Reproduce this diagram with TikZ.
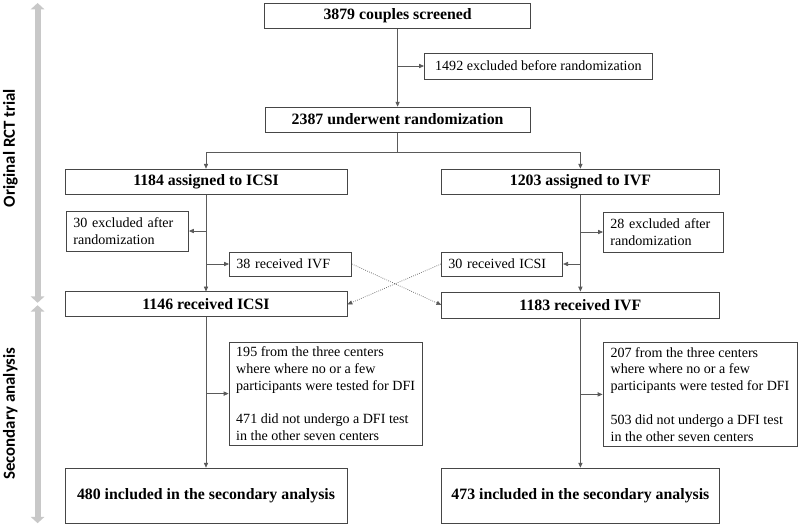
\documentclass[tikz,border=0pt]{standalone}
\usepackage{fontspec}
\setmainfont{Liberation Serif}
\newfontfamily\fasefont{Carlito}
\usepackage{tikz}
\usetikzlibrary{arrows.meta, positioning, calc}
\definecolor{lineagris}{RGB}{90,90,90}
\definecolor{bordegris}{RGB}{70,70,70}
\definecolor{fasegris}{RGB}{200,200,200}

\begin{document}
\begin{tikzpicture}[
	caja/.style={draw=bordegris, line width=0.6pt, inner sep=0pt, font=\fontsize{11.25}{13.5}\selectfont\bfseries},
	nota/.style={draw=bordegris, line width=0.6pt, inner xsep=5pt, inner ysep=2pt, align=left, anchor=west},
	bloque/.style={draw=bordegris, line width=0.6pt, inner sep=0pt, align=left},
	flecha/.style={lineagris, line width=0.5pt, -{Triangle[length=3.5pt,width=3pt]}},
	cruce/.style={lineagris, line width=0.5pt, densely dotted, -{Triangle[length=3.5pt,width=3pt]}},
	fase/.style={fasegris, line width=4.3pt, {Triangle[length=4.5pt,width=9.5pt]}-{Triangle[length=4.5pt,width=9.5pt]}},
	]
	\useasboundingbox (0,0) rectangle (20,-13.15);
	% ensayo original
	\node[caja, minimum width=6.65cm, minimum height=0.625cm] (scr) at (9.94,-0.39) {3879 couples screened};
	\node[nota, minimum width=5.7cm, minimum height=0.65cm] (excl) at (10.6,-1.65) {1492 excluded before randomization};
	\node[caja, minimum width=6.63cm, minimum height=0.625cm] (rand) at (9.94,-2.99) {2387 underwent randomization};
	\node[caja, minimum width=7.05cm, minimum height=0.625cm] (asICSI) at (5.15,-4.54) {1184 assigned to ICSI};
	\node[caja, minimum width=6.93cm, minimum height=0.625cm] (asIVF) at (14.51,-4.54) {1203 assigned to IVF};
	\node[nota, text width=2.7cm, minimum height=1cm] (exICSI) at (1.65,-5.775) {30 excluded after randomization};
	\node[nota, text width=2.7cm, minimum height=0.6cm] (recIVF) at (5.725,-6.6) {38 received IVF};
	\node[nota, text width=2.68cm, minimum height=0.6cm] (recICSI) at (11.025,-6.6) {30 received ICSI};
	\node[nota, text width=2.65cm, minimum height=1cm] (exIVF) at (15.075,-5.8) {28 excluded after randomization};
	\node[caja, minimum width=7.05cm, minimum height=0.625cm] (gICSI) at (5.15,-7.61) {1146 received ICSI};
	\node[caja, minimum width=6.93cm, minimum height=0.65cm] (gIVF) at (14.51,-7.625) {1183 received IVF};
	% analisis secundario
	\node[bloque, minimum width=4.83cm, minimum height=2.58cm] (lossICSI) at (8.14,-9.84) {195 from the three centers\\where where no or a few\\participants were tested for DFI\\[\baselineskip]471 did not undergo a DFI test\\in the other seven centers};
	\node[bloque, minimum width=4.85cm, minimum height=2.58cm] (lossIVF) at (17.5,-9.86) {207 from the three centers\\where where no or a few\\participants were tested for DFI\\[\baselineskip]503 did not undergo a DFI test\\in the other seven centers};
	\node[caja, minimum width=7.05cm, minimum height=1.375cm] (finICSI) at (5.15,-12.39) {480 included in the secondary analysis};
	\node[caja, minimum width=6.93cm, minimum height=1.375cm] (finIVF) at (14.51,-12.39) {473 included in the secondary analysis};
	% conexiones
	\draw[flecha] (scr) -- (rand);
	\coordinate (b0) at (scr.south |- excl.west);
	\draw[flecha] (b0) -- (excl);
	\coordinate (split) at (9.94,-3.8);
	\draw[lineagris, line width=0.5pt] (rand) -- (split);
	\draw[flecha] (split) -| (asICSI);
	\draw[flecha] (split) -| (asIVF);
	\draw[flecha] (asICSI) -- (gICSI);
	\draw[flecha] (asIVF) -- (gIVF);
	\coordinate (b1) at (asICSI.south |- exICSI.east);
	\coordinate (b2) at (asICSI.south |- recIVF.west);
	\coordinate (b3) at (asIVF.south |- exIVF.west);
	\coordinate (b4) at (asIVF.south |- recICSI.east);
	\draw[flecha] (b1) -- (exICSI);
	\draw[flecha] (b2) -- (recIVF);
	\draw[flecha] (b3) -- (exIVF);
	\draw[flecha] (b4) -- (recICSI);
	\draw[cruce] (recIVF.east) -- (gIVF.west);
	\draw[cruce] (recICSI.west) -- (gICSI.east);
	\draw[flecha] (gICSI) -- (finICSI);
	\draw[flecha] (gIVF) -- (finIVF);
	\coordinate (b5) at (gICSI.south |- lossICSI.west);
	\coordinate (b6) at (gIVF.south |- lossIVF.west);
	\draw[flecha] (b5) -- (lossICSI);
	\draw[flecha] (b6) -- (lossIVF);
	% fases
	\coordinate (f0) at (0.94,-0.075);
	\coordinate (f1) at (0.94,-7.57);
	\coordinate (f2) at (0.94,-7.63);
	\coordinate (f3) at (0.94,-13.08);
	\draw[fase] (f0) -- (f1);
	\draw[fase] (f2) -- (f3);
	\node[rotate=90, font=\fasefont\fontsize{12}{14}\selectfont\bfseries] (t1) at (0.26,-3.7) {Original RCT trial};
	\node[rotate=90, font=\fasefont\fontsize{12}{14}\selectfont\bfseries] (t2) at (0.26,-10.34) {Secondary analysis};
\end{tikzpicture}
\end{document}
